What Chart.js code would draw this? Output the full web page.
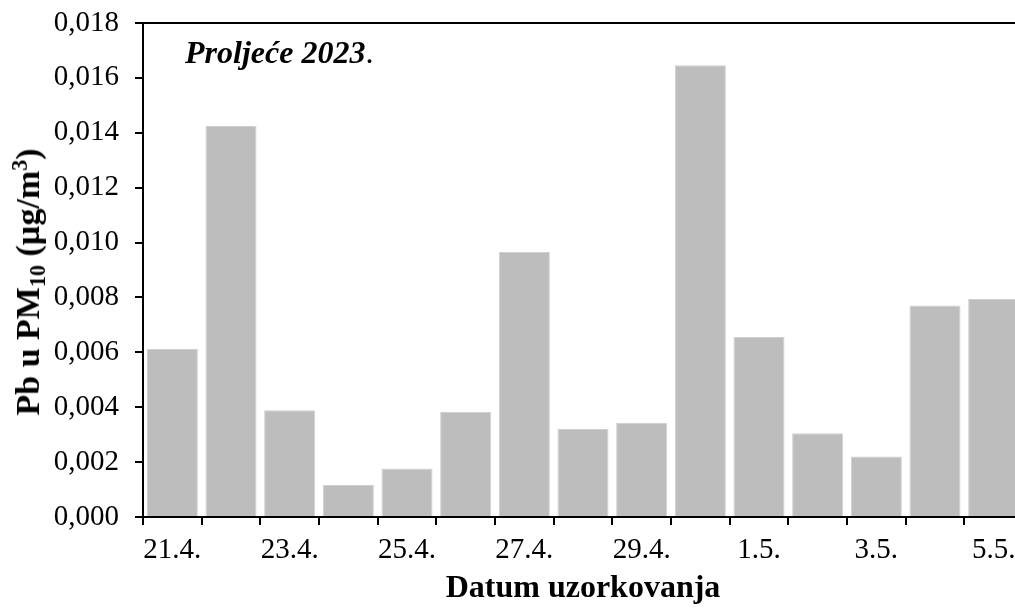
<!DOCTYPE html>
<html>
<head>
<meta charset="utf-8">
<script src="https://cdn.jsdelivr.net/npm/chart.js@4.4.0/dist/chart.umd.min.js"></script>
<style>
  html, body { margin: 0; padding: 0; background: #fff; overflow: hidden; }
  #wrap { position: relative; width: 1015px; height: 608px; overflow: hidden; }
  #c { position: absolute; left: 0; top: 0; }
  #ytitle {
    position: absolute; left: 28px; top: 282px;
    transform: translate(-50%, -50%) rotate(-90deg);
    font-family: 'Liberation Serif', 'Times New Roman', serif;
    font-weight: bold; font-size: 34px; white-space: nowrap; color: #000; line-height: 1;
  }
  #ytitle sub, #ytitle sup { font-size: 0.65em; line-height: 0; }
  #ytitle sub { vertical-align: -0.25em; }
  #ytitle sup { vertical-align: 0.55em; }
  #ptitle {
    position: absolute; left: 185px; top: 36px;
    font-family: 'Liberation Serif', 'Times New Roman', serif;
    font-size: 32px; color: #000; white-space: nowrap; line-height: 1;
  }
</style>
</head>
<body>
<div id="wrap">
  <canvas id="c" width="1025" height="608" style="width:1025px;height:608px"></canvas>
  <div id="ytitle">Pb u PM<sub>10</sub> (µg/m<sup>3</sup>)</div>
  <div id="ptitle"><b><i>Proljeće 2023</i></b>.</div>
</div>
<script>
const categories = ['21.4.', '22.4.', '23.4.', '24.4.', '25.4.', '26.4.', '27.4.', '28.4.', '29.4.', '30.4.', '1.5.', '2.5.', '3.5.', '4.5.', '5.5.'];
const pbValues = [0.00612, 0.01425, 0.00389, 0.00117, 0.00177, 0.00383, 0.00966, 0.00321, 0.00343, 0.01646, 0.00656, 0.00305, 0.00220, 0.00771, 0.00794];
const yTickLabels = ['0,000', '0,002', '0,004', '0,006', '0,008', '0,010', '0,012', '0,014', '0,016', '0,018'];
const xAxisTitle = 'Datum uzorkovanja';

const serif = "'Liberation Serif', 'Times New Roman', serif";

const topBorder = {
  id: 'topBorder',
  afterDraw(chart) {
    const { ctx, chartArea } = chart;
    ctx.save();
    ctx.strokeStyle = '#000';
    ctx.lineWidth = 2;
    ctx.beginPath();
    ctx.moveTo(chartArea.left - 8, chartArea.top);
    ctx.lineTo(chartArea.right, chartArea.top);
    ctx.stroke();
    ctx.restore();
  }
};

new Chart(document.getElementById('c'), {
  type: 'bar',
  data: {
    labels: categories,
    datasets: [{
      data: pbValues,
      backgroundColor: '#bdbdbd',
      borderColor: '#cfcfcf',
      borderWidth: 1,
      barPercentage: 0.87,
      categoryPercentage: 1.0
    }]
  },
  options: {
    responsive: false,
    animation: false,
    layout: { padding: { top: 23, right: 2, left: 0, bottom: 0 } },
    plugins: { legend: { display: false }, tooltip: { enabled: false }, title: { display: false } },
    scales: {
      x: {
        offset: true,
        grid: { display: true, offset: true, drawOnChartArea: false, drawTicks: true, tickLength: 8, color: '#000', lineWidth: 2 },
        border: { display: true, color: '#000', width: 2 },
        ticks: {
          autoSkip: false, maxRotation: 0, minRotation: 0, color: '#000', padding: 8,
          font: { family: serif, size: 29 },
          callback: (v, i) => (i % 2 === 0 ? categories[i] : '')
        },
        title: { display: true, text: xAxisTitle, color: '#000', font: { family: serif, size: 32, weight: 'bold' }, padding: { top: 2, bottom: 0 } },
        afterFit: (s) => { s.height = 91; s.paddingLeft = 0; s.paddingRight = 0; }
      },
      y: {
        min: 0, max: 0.018,
        ticks: {
          stepSize: 0.002, color: '#000', padding: 16,
          font: { family: serif, size: 29 },
          callback: (v, i) => yTickLabels[i]
        },
        grid: { display: true, drawOnChartArea: false, drawTicks: true, tickLength: 8, color: '#000', lineWidth: 2 },
        border: { display: true, color: '#000', width: 2 },
        afterFit: (s) => { s.width = 143; s.paddingTop = 0; s.paddingBottom = 0; }
      }
    }
  },
  plugins: [topBorder]
});
</script>
</body>
</html>
